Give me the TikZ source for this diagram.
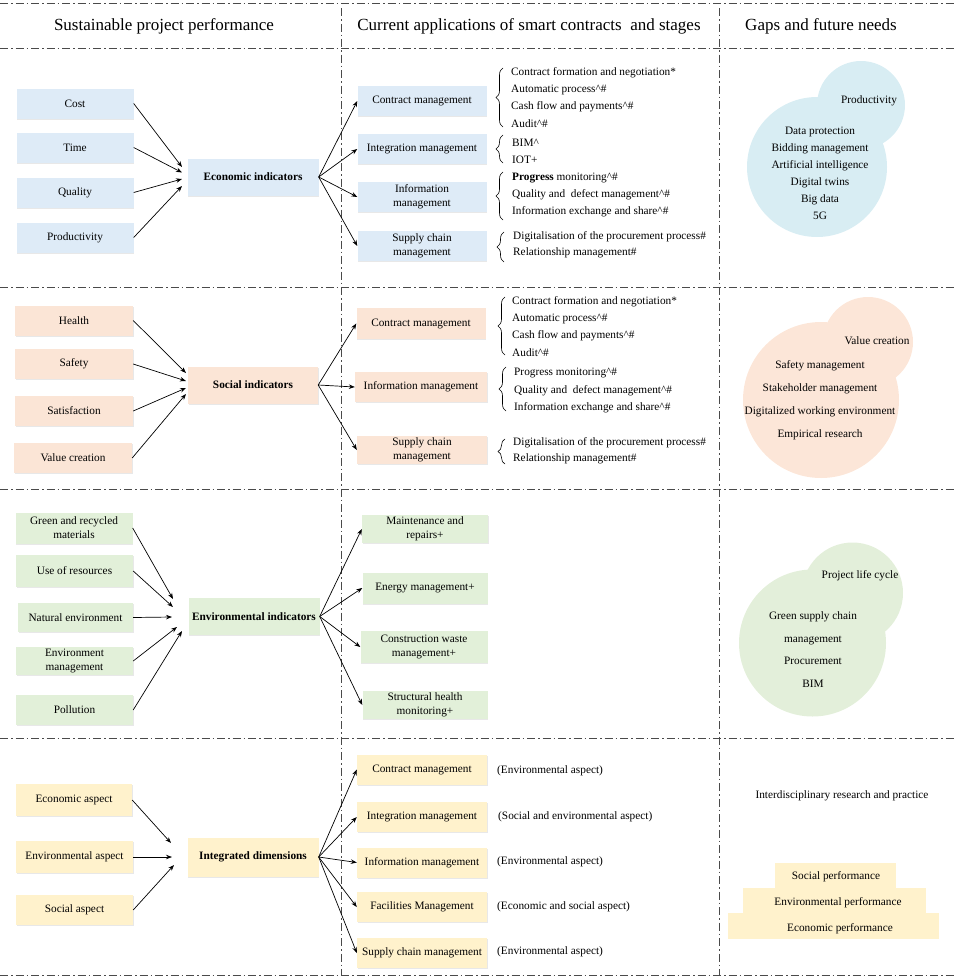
\documentclass[tikz,border=0pt]{standalone}
\usepackage{fontspec}
\setmainfont{Liberation Serif}
\usetikzlibrary{arrows.meta,decorations.pathreplacing,shadows}
\definecolor{bluebox}{HTML}{DEEBF7}
\definecolor{bluebub}{HTML}{D8EDF3}
\definecolor{peachbox}{HTML}{FBE5D6}
\definecolor{peachbub}{HTML}{FCE6D8}
\definecolor{greenbox}{HTML}{E2F0D9}
\definecolor{greenbub}{HTML}{E3EFDA}
\definecolor{yellowbox}{HTML}{FFF2CC}
\definecolor{sepline}{HTML}{4A4A4A}
\begin{document}
\begin{tikzpicture}[x=1pt,y=-1pt,
  every node/.style={font=\fontsize{11.3}{14}\selectfont, inner sep=0pt, align=center},
  sep/.style={draw=sepline, line width=0.9pt, dash pattern=on 8pt off 3pt on 1.5pt off 3pt},
  shbox/.style={rectangle, fill=#1, drop shadow={shadow xshift=0.6pt, shadow yshift=-1.4pt, opacity=0.18}},
  lbox/.style={shbox=#1, minimum width=117pt, minimum height=30pt},
  cbox/.style={shbox=#1, minimum width=131pt, minimum height=37pt, font=\fontsize{11.3}{14}\selectfont\bfseries},
  mbox/.style={shbox=#1, minimum width=129pt, minimum height=30pt},
  arr/.style={-{Stealth[length=6pt,width=4.5pt]}, line width=0.7pt, black},
  brc/.style={decorate, decoration={brace, amplitude=7pt}, line width=0.6pt},
  item/.style={anchor=west},
  head/.style={font=\fontsize{17}{20}\selectfont},
  bub/.style={circle, fill=#1, inner sep=0pt}
]
\useasboundingbox (0,0) rectangle (954,980);

% ---------- separators ----------
\draw[sep] (0,3) -- (954,3);
\draw[sep] (0,48) -- (954,48);
\draw[sep] (0,287) -- (954,287);
\draw[sep] (0,489) -- (954,489);
\draw[sep] (0,738) -- (954,738);
\draw[sep] (0,975) -- (954,975);
\draw[sep] (341,8) -- (341,975);
\draw[sep] (719,8) -- (719,975);

% ---------- headers ----------
\node[head] (h1) at (164,26) {Sustainable project performance};
\node[head] (h2) at (529,26) {Current applications of smart contracts\ \ and stages};
\node[head] (h3) at (821,26) {Gaps and future needs};

% ================= Section 1: economic =================
\node[lbox=bluebox] (cost) at (75,103.5) {Cost};
\node[lbox=bluebox] (time) at (75,147.5) {Time};
\node[lbox=bluebox] (qual) at (75,192.5) {Quality};
\node[lbox=bluebox] (prod) at (75,237.5) {Productivity};
\node[cbox=bluebox] (econ) at (253,177) {Economic indicators};
\coordinate (t11) at (182,167);
\coordinate (t12) at (182,172.5);
\coordinate (t13) at (182,179);
\coordinate (t14) at (182,186);
\draw[arr] (cost.east) -- (t11);
\draw[arr] (time.east) -- (t12);
\draw[arr] (qual.east) -- (t13);
\draw[arr] (prod.east) -- (t14);

\node[mbox=bluebox] (cm1) at (422,101) {Contract management};
\node[mbox=bluebox] (ig1) at (422,149) {Integration management};
\node[mbox=bluebox] (if1) at (422,197) {Information\\management};
\node[mbox=bluebox] (sc1) at (422,246) {Supply chain\\management};
\draw[arr] (econ.east) -- (cm1.west);
\draw[arr] (econ.east) -- (ig1.west);
\draw[arr] (econ.east) -- (if1.west);
\draw[arr] (econ.east) -- (sc1.west);

\draw[brc] (503,127) -- (503,68);
\draw[brc] (503,163) -- (503,135);
\draw[brc] (503,220) -- (503,172);
\draw[brc] (504,262) -- (504,232);
\node[item] (a11) at (511,73) {Contract formation and negotiation*};
\node[item] (a12) at (511,90) {Automatic process\textasciicircum\#};
\node[item] (a13) at (511,107) {Cash flow and payments\textasciicircum\#};
\node[item] (a14) at (511,124) {Audit\textasciicircum\#};
\node[item] (a15) at (512,143) {BIM\textasciicircum};
\node[item] (a16) at (512,160) {IOT+};
\node[item] (a17) at (512,178) {\textbf{Progress} monitoring\textasciicircum\#};
\node[item] (a18) at (512,195) {Quality and\ \ defect management\textasciicircum\#};
\node[item] (a19) at (512,212) {Information exchange and share\textasciicircum\#};
\node[item] (a1a) at (513,237) {Digitalisation of the procurement process\#};
\node[item] (a1b) at (513,253) {Relationship management\#};

\node[bub=bluebub, minimum size=140pt] (b1a) at (817,167) {};
\node[bub=bluebub, minimum size=88pt] (b1b) at (861,105) {};
\node (g1t) at (869,101) {Productivity};
\node[font=\fontsize{11.3}{17}\selectfont] (g1l) at (820,173) {Data protection\\Bidding management\\Artificial intelligence\\Digital twins\\Big data\\5G};

% ================= Section 2: social =================
\node[lbox=peachbox, minimum width=118pt] (health) at (74,320.5) {Health};
\node[lbox=peachbox, minimum width=118pt] (safety) at (74,364) {Safety};
\node[lbox=peachbox, minimum width=118pt] (satis) at (74,411) {Satisfaction};
\node[lbox=peachbox, minimum width=118pt] (value) at (73,458) {Value creation};
\node[cbox=peachbox, minimum width=130pt] (soc) at (253,385) {Social indicators};
\coordinate (t21) at (186,373);
\coordinate (t22) at (186,381);
\coordinate (t23) at (186,388);
\coordinate (t24) at (186,394);
\draw[arr] (health.east) -- (t21);
\draw[arr] (safety.east) -- (t22);
\draw[arr] (satis.east) -- (t23);
\draw[arr] (value.east) -- (t24);

\node[mbox=peachbox, minimum height=31pt] (cm2) at (421,323.5) {Contract management};
\node[mbox=peachbox, minimum width=132pt] (if2) at (421,387) {Information management};
\node[mbox=peachbox, minimum width=130pt, minimum height=28pt] (sc2) at (422,450) {Supply chain\\management};
\draw[arr] (soc.east) -- (cm2.west);
\draw[arr] (soc.east) -- (if2.west);
\draw[arr] (soc.east) -- (sc2.west);

\draw[brc] (505,355) -- (505,297);
\draw[brc] (506,411) -- (506,367);
\draw[brc] (505,464) -- (505,439);
\node[item] (a21) at (512,302) {Contract formation and negotiation*};
\node[item] (a22) at (512,319) {Automatic process\textasciicircum\#};
\node[item] (a23) at (512,336) {Cash flow and payments\textasciicircum\#};
\node[item] (a24) at (512,353) {Audit\textasciicircum\#};
\node[item] (a25) at (514,373) {Progress monitoring\textasciicircum\#};
\node[item] (a26) at (514,391) {Quality and\ \ defect management\textasciicircum\#};
\node[item] (a27) at (514,408) {Information exchange and share\textasciicircum\#};
\node[item] (a28) at (513,443) {Digitalisation of the procurement process\#};
\node[item] (a29) at (513,459) {Relationship management\#};

\node[bub=peachbub, minimum size=156pt] (b2a) at (821,400) {};
\node[bub=peachbub, minimum size=90pt] (b2b) at (868,342) {};
\node (g2t) at (877,341) {Value creation};
\node[font=\fontsize{11.3}{23}\selectfont] (g2l) at (820,400.5) {Safety management\\Stakeholder management\\Digitalized working environment\\Empirical research};

% ================= Section 3: environmental =================
\node[lbox=greenbox, minimum height=31pt] (grn) at (74,528) {Green and recycled\\materials};
\node[lbox=greenbox, minimum height=32pt] (use) at (74.5,571) {Use of resources};
\node[lbox=greenbox, minimum width=115pt, minimum height=29pt] (nat) at (75.5,617.5) {Natural environment};
\node[lbox=greenbox, minimum height=28pt] (envm) at (74.5,661) {Environment\\management};
\node[lbox=greenbox] (poll) at (74.5,710) {Pollution};
\node[cbox=greenbox] (env) at (254,616.5) {Environmental indicators};
\coordinate (t31) at (173,599);
\coordinate (t32) at (173,607);
\coordinate (t33) at (172,617);
\coordinate (t34) at (177,627);
\coordinate (t35) at (182,631);
\draw[arr] (grn.east) -- (t31);
\draw[arr] (use.east) -- (t32);
\draw[arr] (nat.east) -- (t33);
\draw[arr] (envm.east) -- (t34);
\draw[arr] (poll.east) -- (t35);

\node[mbox=greenbox, minimum width=126pt, minimum height=28pt] (mr3) at (425,529) {Maintenance and\\repairs+};
\node[mbox=greenbox, minimum width=125pt, minimum height=31pt] (en3) at (425,588) {Energy management+};
\node[mbox=greenbox, minimum width=127pt, minimum height=32pt] (cw3) at (424,647) {Construction waste\\management+};
\node[mbox=greenbox, minimum width=125pt, minimum height=28pt] (sh3) at (425,705) {Structural health\\monitoring+};
\draw[arr] (env.east) -- (mr3.west);
\draw[arr] (env.east) -- (en3.west);
\draw[arr] (env.east) -- (cw3.west);
\draw[arr] (env.east) -- (sh3.west);

\node[bub=greenbub, minimum size=147pt] (b3a) at (812.5,643) {};
\node[bub=greenbub, minimum size=101pt] (b3b) at (852.5,593) {};
\node (g3t) at (860,576) {Project life cycle};
\node[font=\fontsize{11.3}{22.5}\selectfont] (g3l) at (813,649.5) {Green supply chain\\management\\Procurement\\BIM};

% ================= Section 4: integrated =================
\node[lbox=yellowbox, minimum width=116pt, minimum height=32pt] (ecoA) at (74,800) {Economic aspect};
\node[lbox=yellowbox, minimum height=32pt] (envA) at (74.5,857) {Environmental aspect};
\node[lbox=yellowbox] (socA) at (74.5,910) {Social aspect};
\node[cbox=yellowbox, minimum height=39pt] (intg) at (253,857) {Integrated dimensions};
\coordinate (t41) at (171,843);
\coordinate (t42) at (172,857);
\coordinate (t43) at (174,865);
\draw[arr] (ecoA.east) -- (t41);
\draw[arr] (envA.east) -- (t42);
\draw[arr] (socA.east) -- (t43);

\node[mbox=yellowbox, minimum width=130pt] (cm4) at (422,769.5) {Contract management};
\node[mbox=yellowbox, minimum width=130pt] (ig4) at (422,817) {Integration management};
\node[mbox=yellowbox, minimum width=130pt] (if4) at (422,862.5) {Information management};
\node[mbox=yellowbox, minimum width=130pt] (fm4) at (422,907) {Facilities Management};
\node[mbox=yellowbox, minimum width=130pt] (sc4) at (422,953) {Supply chain management};
\draw[arr] (intg.east) -- (cm4.west);
\draw[arr] (intg.east) -- (ig4.west);
\draw[arr] (intg.east) -- (if4.west);
\draw[arr] (intg.east) -- (fm4.west);
\draw[arr] (intg.east) -- (sc4.west);
\node[item] (l41) at (497,771) {(Environmental aspect)};
\node[item] (l42) at (498,817) {(Social and environmental aspect)};
\node[item] (l43) at (497,862) {(Environmental aspect)};
\node[item] (l44) at (497,907) {(Economic and social aspect)};
\node[item] (l45) at (497,952) {(Environmental aspect)};

\node (g4t) at (842,796) {Interdisciplinary research and practice};
\node[fill=yellowbox, minimum width=211pt, minimum height=26pt] (p3) at (833.5,926) {};
\node[fill=yellowbox, minimum width=183pt, minimum height=25pt] (p2) at (834.5,900.5) {};
\node[fill=yellowbox, minimum width=121pt, minimum height=25pt] (p1) at (835.5,875.5) {};
\node (p1t) at (836,877) {Social performance};
\node (p2t) at (838,903) {Environmental performance};
\node (p3t) at (840,929) {Economic performance};
\end{tikzpicture}
\end{document}
